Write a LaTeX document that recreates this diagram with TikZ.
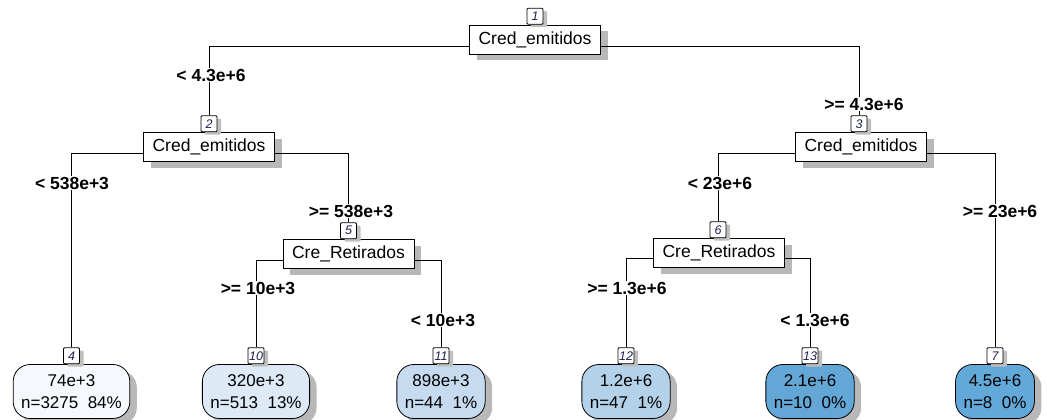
\documentclass[tikz,border=0pt]{standalone}
\usepackage{fontspec}
\setmainfont{Liberation Sans}
\usetikzlibrary{shadows}
\definecolor{cA}{HTML}{F5F9FD}
\definecolor{cB}{HTML}{DDE9F5}
\definecolor{cC}{HTML}{C6DBEF}
\definecolor{cD}{HTML}{B3D1E9}
\definecolor{cE}{HTML}{63A7D7}
\definecolor{cF}{HTML}{62A8D9}
\definecolor{numc}{HTML}{202050}
\begin{document}
\begin{tikzpicture}[x=1pt,y=-1pt,
  shad/.style={drop shadow={shadow xshift=7pt,shadow yshift=-6pt,fill=black!28,opacity=1}},
  split/.style={draw,fill=white,line width=0.8pt,minimum width=131pt,minimum height=29pt,inner sep=0pt,font=\fontsize{17.5}{20}\selectfont,shad},
  leaf/.style={draw,line width=0.8pt,rounded corners=17pt,minimum height=54pt,inner xsep=8pt,inner ysep=0pt,align=center,font=\fontsize{17}{22.5}\selectfont,shad},
  num/.style={draw,fill=white,line width=0.8pt,rounded corners=1pt,minimum size=16pt,inner sep=1pt,font=\fontsize{12.5}{13}\selectfont\itshape,text=numc,anchor=south,drop shadow={shadow xshift=4pt,shadow yshift=-3pt,fill=black!25,opacity=1}},
  lab/.style={fill=white,font=\fontsize{17.5}{20}\selectfont\bfseries,inner sep=1pt},
  edge/.style={line width=0.8pt}]
\useasboundingbox (0,0) rectangle (1047,420);
% split nodes
\node[split] (n1) at (535,39.5) {Cred\_emitidos};
\node[num] (b1) at (n1.north) {1};
\node[split] (n2) at (209,147) {Cred\_emitidos};
\node[num] (b2) at (n2.north) {2};
\node[split] (n3) at (861,147) {Cred\_emitidos};
\node[num] (b3) at ([xshift=-2pt]n3.north) {3};
\node[split] (n5) at (348.5,254) {Cre\_Retirados};
\node[num] (b5) at (n5.north) {5};
\node[split] (n6) at (719,253) {Cre\_Retirados};
\node[num] (b6) at ([xshift=-1pt]n6.north) {6};
% leaves
\node[leaf,fill=cA] (l4) at (71.5,391.5) {74e+3\\n=3275\ \ 84\%};
\node[num] (b4) at (l4.north) {4};
\node[leaf,fill=cB] (l10) at (256,391.5) {320e+3\\n=513\ \ 13\%};
\node[num] (b10) at (l10.north) {10};
\node[leaf,fill=cC] (l11) at (441,391.5) {898e+3\\n=44\ \ 1\%};
\node[num] (b11) at (l11.north) {11};
\node[leaf,fill=cD] (l12) at (626,391.5) {1.2e+6\\n=47\ \ 1\%};
\node[num] (b12) at (l12.north) {12};
\node[leaf,fill=cE] (l13) at (810,391.5) {2.1e+6\\n=10\ \ 0\%};
\node[num] (b13) at (l13.north) {13};
\node[leaf,fill=cF] (l7) at (995,391.5) {4.5e+6\\n=8\ \ 0\%};
\node[num] (b7) at (l7.north) {7};
% connectors
\draw[edge] ([yshift=-7pt]n1.west) -| (b2.north);
\draw[edge] ([yshift=-7pt]n1.east) -| (b3.north);
\draw[edge] ([yshift=-6pt]n2.west) -| (b4.north);
\draw[edge] ([yshift=-6pt]n2.east) -| (b5.north);
\draw[edge] ([yshift=-6pt]n3.west) -| (b6.north);
\draw[edge] ([yshift=-6pt]n3.east) -| (b7.north);
\draw[edge] ([yshift=-6pt]n5.west) -| (b10.north);
\draw[edge] ([yshift=-6pt]n5.east) -| (b11.north);
\draw[edge] ([yshift=-5pt]n6.west) -| (b12.north);
\draw[edge] ([yshift=-5pt]n6.east) -| (b13.north);
% split labels
\node[lab] (t2) at (211,75) {< 4.3e+6};
\node[lab] (t3) at (864,104) {>= 4.3e+6};
\node[lab] (t4) at (72,183) {< 538e+3};
\node[lab] (t5) at (351,211) {>= 538e+3};
\node[lab] (t6) at (720,183) {< 23e+6};
\node[lab] (t7) at (1000,211) {>= 23e+6};
\node[lab] (t10) at (258,288) {>= 10e+3};
\node[lab] (t11) at (443,320) {< 10e+3};
\node[lab] (t12) at (627,288) {>= 1.3e+6};
\node[lab] (t13) at (815,320) {< 1.3e+6};
\end{tikzpicture}
\end{document}
